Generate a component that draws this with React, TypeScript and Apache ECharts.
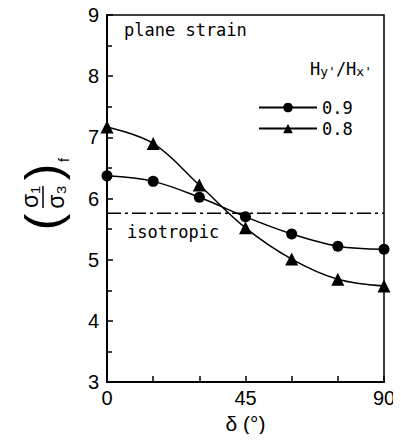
import React, { useEffect, useRef } from "react";
import * as echarts from "echarts";

const deltaDeg = [0, 15, 30, 45, 60, 75, 90];
const ratio09 = [6.37, 6.28, 6.02, 5.7, 5.42, 5.22, 5.17];
const ratio08 = [7.17, 6.9, 6.22, 5.52, 5.01, 4.68, 4.57];
const isotropicValue = 5.76;
const xTickLabels = [0, 45, 90];
const seriesNames = ["0.9", "0.8"];

const FONT = "'Liberation Sans', Arial, sans-serif";
const MONO = "'DejaVu Sans Mono', monospace";

export default function App() {
  const ref = useRef<HTMLDivElement>(null);
  useEffect(() => {
    if (!ref.current) return;
    const chart = echarts.init(ref.current, null, { renderer: "svg" });
    const pts = (ys: number[]) => deltaDeg.map((x, i) => [x, ys[i]]);
    chart.setOption({
      animation: false,
      backgroundColor: "#fff",
      grid: {
        left: 107,
        right: 17,
        top: 15,
        bottom: 60,
        show: true,
        borderColor: "#000",
        borderWidth: 1.5,
        backgroundColor: "transparent",
      },
      xAxis: {
        type: "value",
        min: 0,
        max: 90,
        interval: 15,
        name: "δ (°)",
        nameLocation: "middle",
        nameGap: 30,
        nameTextStyle: { fontFamily: FONT, fontSize: 21, color: "#000" },
        axisLine: { lineStyle: { color: "#000", width: 2 } },
        axisTick: { inside: true, length: 6, lineStyle: { color: "#000", width: 1.5 } },
        axisLabel: {
          fontFamily: FONT,
          fontSize: 20,
          color: "#000",
          margin: 6,
          formatter: (v: number) => (xTickLabels.includes(v) ? String(v) : ""),
        },
        splitLine: { show: false },
      },
      yAxis: {
        type: "value",
        min: 3,
        max: 9,
        interval: 1,
        axisLine: { lineStyle: { color: "#000", width: 2 } },
        axisTick: { inside: true, length: 6, lineStyle: { color: "#000", width: 1.5 } },
        minorTick: { show: true, splitNumber: 2, length: 5, lineStyle: { color: "#000", width: 1.5 } },
        axisLabel: { fontFamily: FONT, fontSize: 20, color: "#000", margin: 8 },
        splitLine: { show: false },
      },
      legend: {
        orient: "vertical",
        left: 253,
        top: 94,
        itemWidth: 58,
        itemHeight: 12,
        itemGap: 4,
        data: seriesNames,
        textStyle: { fontFamily: MONO, fontSize: 17, color: "#000" },
      },
      series: [
        {
          name: seriesNames[0],
          type: "line",
          data: pts(ratio09),
          smooth: 0.35,
          symbol: "circle",
          symbolSize: 11,
          itemStyle: { color: "#000" },
          lineStyle: { color: "#000", width: 1.5 },
        },
        {
          name: seriesNames[1],
          type: "line",
          data: pts(ratio08),
          smooth: 0.35,
          symbol: "triangle",
          symbolSize: 13,
          itemStyle: { color: "#000" },
          lineStyle: { color: "#000", width: 1.5 },
        },
        {
          name: "isotropic",
          type: "line",
          data: [
            [0, isotropicValue],
            [90, isotropicValue],
          ],
          symbol: "none",
          lineStyle: { color: "#000", width: 1.5, type: [14, 4, 3, 4] },
        },
      ],
      graphic: [
        {
          type: "text",
          left: 124,
          top: 21,
          style: { text: "plane strain", fontFamily: MONO, fontSize: 17, fill: "#000" },
        },
        {
          type: "text",
          left: 127,
          top: 223,
          style: { text: "isotropic", fontFamily: MONO, fontSize: 17, fill: "#000" },
        },
        {
          type: "text",
          left: 310,
          top: 60,
          style: {
            text: "H{s|y'}/H{s|x'}",
            fontFamily: MONO,
            fontSize: 17,
            fill: "#000",
            rich: { s: { fontFamily: MONO, fontSize: 13, fill: "#000", padding: [6, 0, 0, 0] } },
          },
        },
        {
          type: "group",
          x: 43,
          y: 197,
          rotation: Math.PI / 2,
          children: [
            {
              type: "text",
              x: -25,
              y: 0,
              style: { text: "(", fontFamily: FONT, fontSize: 50, fill: "#000", align: "center", verticalAlign: "middle" },
            },
            {
              type: "text",
              x: 25,
              y: 0,
              style: { text: ")", fontFamily: FONT, fontSize: 50, fill: "#000", align: "center", verticalAlign: "middle" },
            },
            {
              type: "text",
              x: 0,
              y: -13,
              style: { text: "σ₁", fontFamily: FONT, fontSize: 23, fill: "#000", align: "center", verticalAlign: "middle" },
            },
            {
              type: "line",
              shape: { x1: -11, y1: 0, x2: 11, y2: 0 },
              style: { stroke: "#000", lineWidth: 1.5 },
            },
            {
              type: "text",
              x: 0,
              y: 13,
              style: { text: "σ₃", fontFamily: FONT, fontSize: 23, fill: "#000", align: "center", verticalAlign: "middle" },
            },
            {
              type: "text",
              x: 37,
              y: 21,
              style: { text: "f", fontFamily: FONT, fontSize: 14, fill: "#000", align: "center", verticalAlign: "middle" },
            },
          ],
        },
      ],
    });
    return () => chart.dispose();
  }, []);
  return <div ref={ref} style={{ width: 401, height: 442, margin: -8 }} />;
}
